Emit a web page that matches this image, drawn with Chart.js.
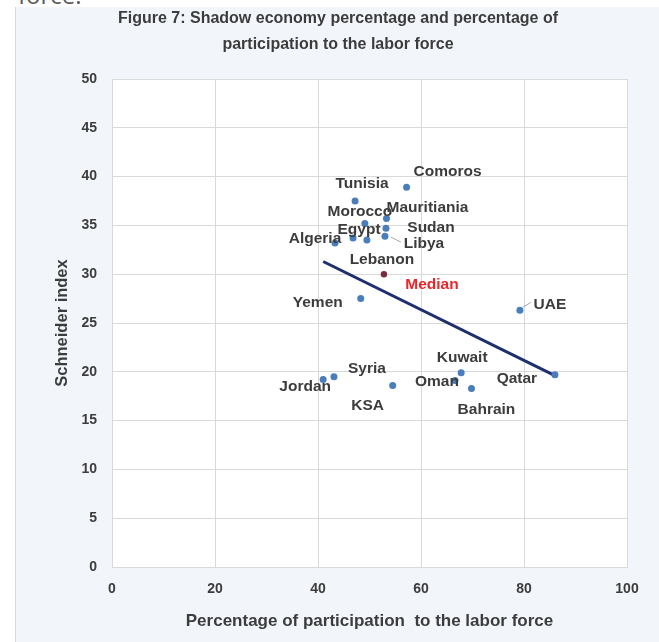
<!DOCTYPE html>
<html>
<head>
<meta charset="utf-8">
<title>Shadow economy and labor force participation</title>
<script src="https://cdn.jsdelivr.net/npm/chart.js@4"></script>
<style>
  html, body { margin: 0; padding: 0; width: 659px; height: 642px; overflow: hidden; background: #ffffff; }
  #lead { position: absolute; left: 18px; top: -22px; font: 24px "Open Sans", sans-serif; color: #5a5a5a; }
  #panel { position: absolute; left: 15px; top: 7px; width: 644px; height: 635px; background: #f2f6fa; border-left: 1px solid #d5dae0; }
  canvas { display: block; }
</style>
</head>
<body>
<div id="lead">force.</div>
<div id="panel"><canvas id="chart" width="643" height="635"></canvas></div>
<script>
// Country observations: labor force participation (%) vs Schneider shadow-economy index
const countries = ['Comoros', 'Tunisia', 'Mauritiania', 'Morocco', 'Sudan', 'Libya', 'Egypt', 'Lebanon', 'Algeria',
                   'Yemen', 'UAE', 'Jordan', 'Syria', 'KSA', 'Kuwait', 'Oman', 'Bahrain', 'Qatar'];
const laborParticipation = [57.2, 47.2, 53.3, 49.1, 53.2, 53.0, 46.8, 49.5, 43.3,
                            48.3, 79.2, 41.0, 43.1, 54.5, 67.8, 66.6, 69.8, 86.0];
const schneiderIndex = [38.9, 37.5, 35.7, 35.2, 34.7, 33.9, 33.7, 33.5, 33.2,
                        27.5, 26.3, 19.2, 19.5, 18.6, 19.9, 19.1, 18.3, 19.7];

// Median of the group
const medianLabel = ['Median'];
const medianX = [52.8];
const medianY = [30.0];

// Linear trend endpoints
const trendX = [41.0, 86.4];
const trendY = [31.3, 19.5];

// Axis ranges / ticks
const xTickValues = [0, 20, 40, 60, 80, 100];
const yTickValues = [0, 5, 10, 15, 20, 25, 30, 35, 40, 45, 50];

// Label placement relative to each marker (pixels)
const labelPlacement = {
  Comoros: [41, -16], Tunisia: [7, -17], Mauritiania: [41, -11], Morocco: [-5, -12],
  Sudan: [45, -1], Libya: [39, 8], Egypt: [6, -8], Lebanon: [15, 20], Algeria: [-20, -4],
  Yemen: [-43, 4], UAE: [30, -6], Jordan: [-18, 7], Syria: [33, -8], KSA: [-25, 20],
  Kuwait: [1, -15], Oman: [-18, 1], Bahrain: [15, 21], Qatar: [-38, 4], Median: [48, 11]
};
const leaderLines = { UAE: [[3, -3], [11, -8]], Libya: [[6, 1], [16, 6]] };

const FONT = '"Liberation Sans", Arial, sans-serif';
const TEXT = '#3c3c3c';

const countryPoints = countries.map((c, i) => ({ x: laborParticipation[i], y: schneiderIndex[i] }));
const medianPoints = medianLabel.map((m, i) => ({ x: medianX[i], y: medianY[i] }));
const trendPoints = trendX.map((x, i) => ({ x: x, y: trendY[i] }));

// White plotting area on the tinted panel
const plotBackground = {
  id: 'plotBackground',
  beforeDraw(chart) {
    const { ctx, chartArea: a } = chart;
    ctx.save();
    ctx.fillStyle = '#ffffff';
    ctx.fillRect(a.left, a.top, a.right - a.left, a.bottom - a.top);
    ctx.restore();
  }
};

// Country names next to markers
const pointLabels = {
  id: 'pointLabels',
  afterDatasetsDraw(chart) {
    const ctx = chart.ctx;
    ctx.save();
    ctx.font = 'bold 15.5px ' + FONT;
    ctx.textAlign = 'center';
    ctx.textBaseline = 'middle';
    const draw = (names, dsIndex, color) => {
      const meta = chart.getDatasetMeta(dsIndex);
      names.forEach((name, i) => {
        const el = meta.data[i];
        const off = labelPlacement[name] || [0, -12];
        if (leaderLines[name]) {
          const [p0, p1] = leaderLines[name];
          ctx.strokeStyle = '#a6a6a6';
          ctx.lineWidth = 1;
          ctx.beginPath();
          ctx.moveTo(el.x + p0[0], el.y + p0[1]);
          ctx.lineTo(el.x + p1[0], el.y + p1[1]);
          ctx.stroke();
        }
        ctx.fillStyle = color;
        ctx.fillText(name, el.x + off[0], el.y + off[1]);
      });
    };
    draw(countries, 0, TEXT);
    draw(medianLabel, 1, '#e8262b');
    ctx.restore();
  }
};

new Chart(document.getElementById('chart'), {
  type: 'scatter',
  data: {
    datasets: [
      { label: 'Countries', data: countryPoints, backgroundColor: '#4a7dbb', borderWidth: 0, pointRadius: 3.5, order: 1 },
      { label: 'Median', data: medianPoints, backgroundColor: '#7a2b3b', borderWidth: 0, pointRadius: 3.2, order: 1 },
      { label: 'Trend', type: 'line', data: trendPoints, borderColor: '#1f2f6e', borderWidth: 3,
        pointRadius: 0, fill: false, order: 2 }
    ]
  },
  options: {
    responsive: false,
    animation: false,
    layout: { padding: { left: 33, right: 32, top: 0, bottom: 0 } },
    plugins: {
      legend: { display: false },
      tooltip: { enabled: false },
      title: {
        display: true,
        text: ['Figure 7: Shadow economy percentage and percentage of', 'participation to the labor force'],
        color: TEXT,
        font: { family: FONT, size: 16, weight: 'bold', lineHeight: 1.6 },
        padding: { top: -1, bottom: 21.8 }
      }
    },
    scales: {
      x: {
        type: 'linear', min: 0, max: 100,
        afterBuildTicks(scale) { scale.ticks = xTickValues.map(v => ({ value: v })); },
        afterFit(scale) { scale.height = 75; },
        grid: { color: '#d9d9d9', drawTicks: false },
        border: { color: '#d9d9d9' },
        ticks: { color: TEXT, padding: 14, font: { family: FONT, size: 14, weight: 'bold' } },
        title: { display: true, text: 'Percentage of participation  to the labor force', color: TEXT,
                 font: { family: FONT, size: 17, weight: 'bold' }, padding: { top: 0, bottom: 10 } }
      },
      y: {
        type: 'linear', min: 0, max: 50,
        afterBuildTicks(scale) { scale.ticks = yTickValues.map(v => ({ value: v })); },
        afterFit(scale) { scale.width = 63; },
        grid: { color: '#d9d9d9', drawTicks: false },
        border: { color: '#d9d9d9' },
        ticks: { color: TEXT, padding: 15, font: { family: FONT, size: 14, weight: 'bold' } },
        title: { display: true, text: 'Schneider index', color: TEXT,
                 font: { family: FONT, size: 16.5, weight: 'bold' }, padding: { top: 4, bottom: 0 } }
      }
    }
  },
  plugins: [plotBackground, pointLabels]
});
</script>
</body>
</html>
